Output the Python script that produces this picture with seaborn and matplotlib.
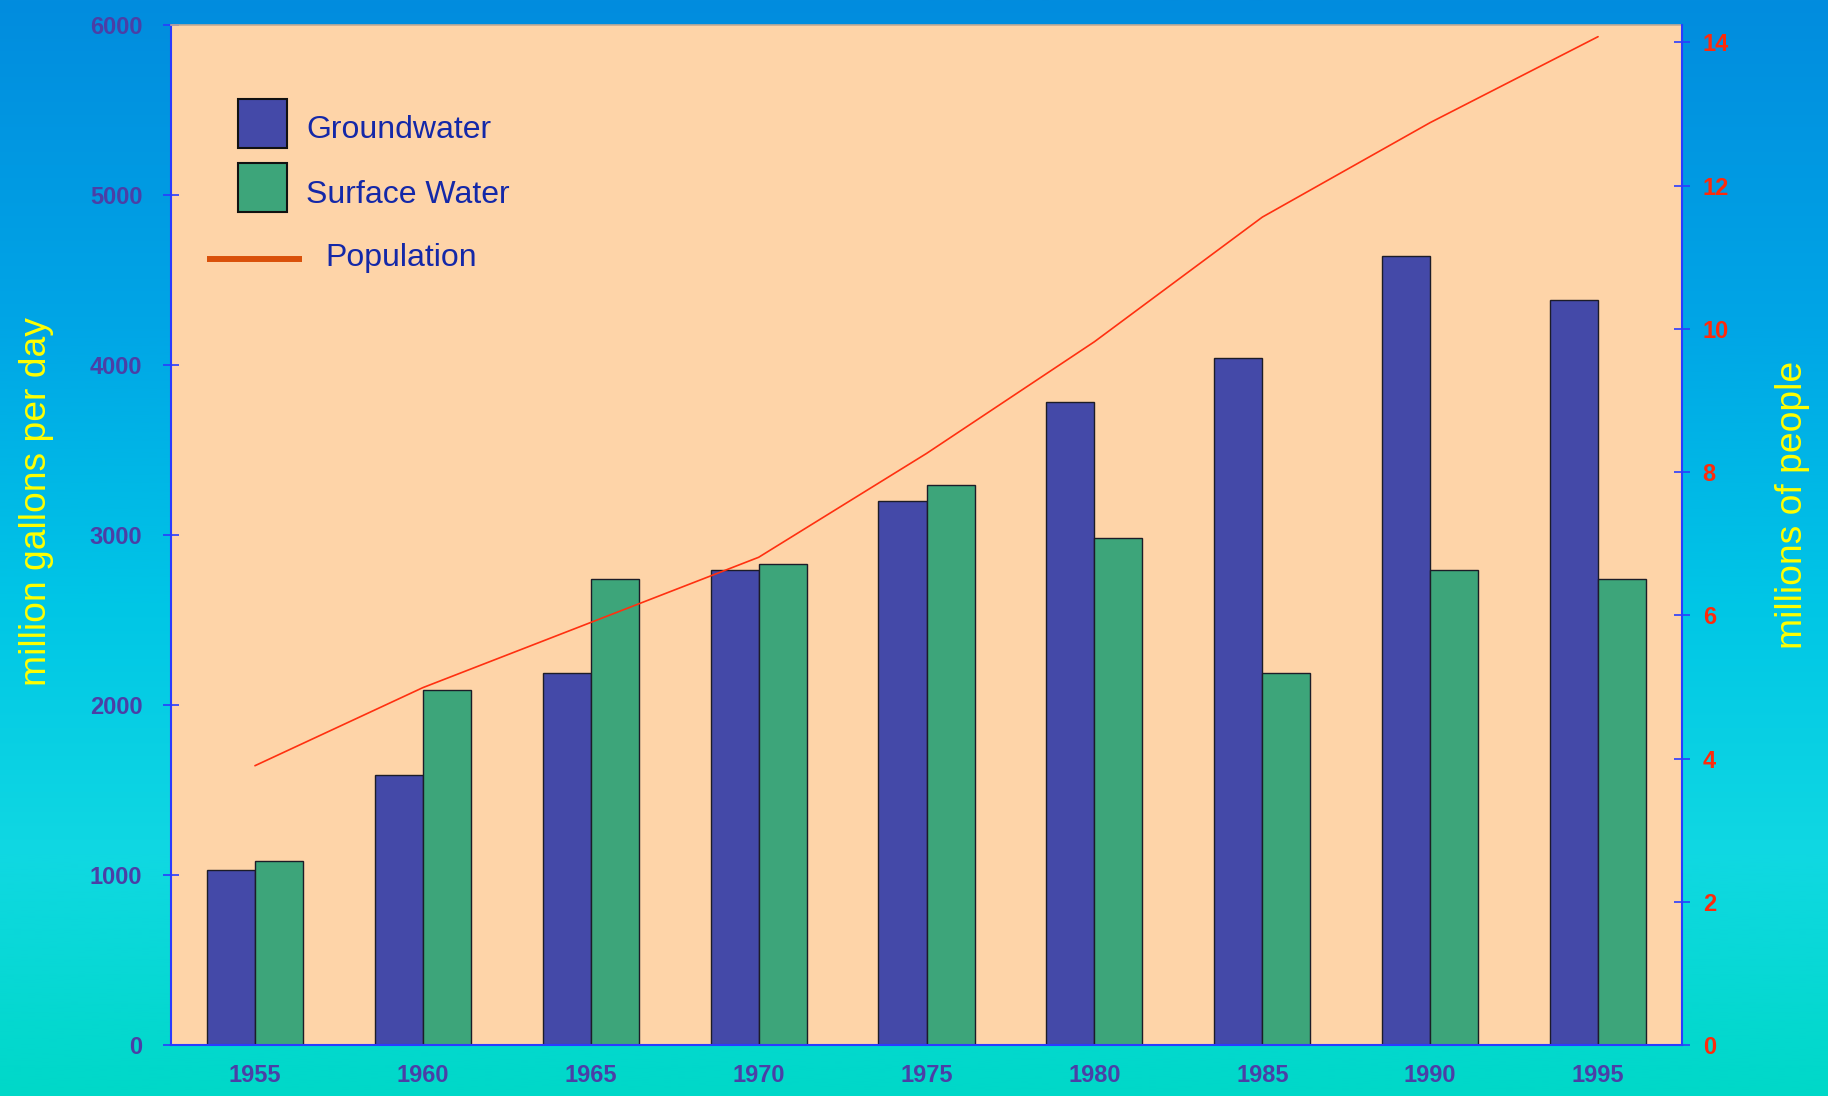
import numpy as np
import pandas as pd
import matplotlib
matplotlib.use("Agg")
import matplotlib.pyplot as plt
from matplotlib import font_manager
from matplotlib.patches import Rectangle
from matplotlib.lines import Line2D
import seaborn as sns

# ---- data -------------------------------------------------------------
years = ["1955", "1960", "1965", "1970", "1975", "1980", "1985", "1990", "1995"]
groundwater = [1030, 1590, 2190, 2790, 3200, 3780, 4040, 4640, 4380]      # million gallons per day
surface_water = [1080, 2090, 2740, 2830, 3290, 2980, 2190, 2790, 2740]    # million gallons per day
population = [3.90, 4.99, 5.90, 6.81, 8.26, 9.82, 11.56, 12.88, 14.08]  # millions of people
series_names = ["Groundwater", "Surface Water"]
left_ticks = [0, 1000, 2000, 3000, 4000, 5000, 6000]
right_ticks = [0, 2, 4, 6, 8, 10, 12, 14]

# ---- style ------------------------------------------------------------
sns.set_style("white")
available = {f.name for f in font_manager.fontManager.ttflist}
NARROW = "Liberation Sans Narrow" if "Liberation Sans Narrow" in available else "Liberation Sans"
tick_size = 21 if NARROW == "Liberation Sans Narrow" else 17
plt.rcParams["font.family"] = ["Liberation Sans", "DejaVu Sans"]

W, H = 1828, 1096
fig = plt.figure(figsize=(W / 100, H / 100), dpi=100)

# vertical blue-to-cyan backdrop
stops = np.array([0.0, 0.3, 0.55, 0.78, 1.0])
cols = np.array([[0x02, 0x8c, 0xde], [0x00, 0xa6, 0xe6], [0x00, 0xc6, 0xe6],
                 [0x10, 0xd8, 0xe2], [0x00, 0xd8, 0xc8]]) / 255.0
t = np.linspace(0, 1, 512)
grad = np.stack([np.interp(t, stops, cols[:, k]) for k in range(3)], axis=-1)[:, None, :]
bg = fig.add_axes([0, 0, 1, 1], zorder=-10)
bg.imshow(grad, aspect="auto", extent=[0, 1, 0, 1], origin="upper")
bg.axis("off")

x0, x1, y_top, y_bot = 171, 1682, 24.5, 1045
ax = fig.add_axes([x0 / W, 1 - y_bot / H, (x1 - x0) / W, (y_bot - y_top) / H])
ax.set_facecolor("#fed4a8")

df = pd.DataFrame({
    "year": years * 2,
    "value": groundwater + surface_water,
    "source": [series_names[0]] * len(years) + [series_names[1]] * len(years),
})
palette = {"Groundwater": "#4449a8", "Surface Water": "#3da57a"}
sns.barplot(data=df, x="year", y="value", hue="source", order=years,
            hue_order=series_names, palette=palette, width=0.572,
            edgecolor="#1c1c28", linewidth=1.0, saturation=1, legend=False, ax=ax)

axis_blue = "#2a3cff"
ax.set_xlim(-0.5, len(years) - 0.5)
ax.set_ylim(0, 6000)
ax.set_yticks(left_ticks)
ax.set_yticklabels([str(v) for v in left_ticks])
ax.set_xlabel("")
ax.set_ylabel("")
ax.tick_params(axis="y", direction="inout", length=12.2, width=1.2, color=axis_blue,
               labelcolor="#4b3fa6", labelsize=tick_size, pad=14.5)
ax.tick_params(axis="x", which="major", length=0, labelcolor="#4b3fa6",
               labelsize=tick_size, pad=14)
ax.set_xticks(np.arange(-0.5, len(years), 1.0), minor=True)
ax.tick_params(axis="x", which="minor", direction="inout", length=12.2, width=1.2,
               color=axis_blue)
for lab in ax.get_xticklabels() + ax.get_yticklabels():
    lab.set_fontfamily(NARROW)
    lab.set_fontweight("bold")
for side in ("left", "bottom"):
    ax.spines[side].set_color(axis_blue)
    ax.spines[side].set_linewidth(1.5)
ax.spines["top"].set_color("#c4ab94")
ax.spines["top"].set_linewidth(1.2)
ax.spines["right"].set_visible(False)

# population on the secondary axis
ax2 = ax.twinx()
sns.lineplot(x=np.arange(len(years)), y=population, color="#ff3010", linewidth=1.2, ax=ax2)
ax2.set_ylim(0, 14.25)
ax2.set_yticks(right_ticks)
ax2.set_yticklabels([str(v) for v in right_ticks])
ax2.tick_params(axis="y", direction="inout", length=12.2, width=1.2, color=axis_blue,
                labelcolor="#ff2a0a", labelsize=tick_size, pad=8.8)
for lab in ax2.get_yticklabels():
    lab.set_fontfamily(NARROW)
    lab.set_fontweight("bold")
for side in ("left", "top", "bottom"):
    ax2.spines[side].set_visible(False)
ax2.spines["right"].set_color(axis_blue)
ax2.spines["right"].set_linewidth(1.5)
ax2.set_ylabel("")

# axis titles
fig.text(37 / W, 1 - 502 / H, "million gallons per day", rotation=90, ha="center",
         va="center", color="#ffff00", fontsize=26.8)
fig.text(1793 / W, 1 - 505 / H, "millions of people", rotation=90, ha="center",
         va="center", color="#ffff00", fontsize=26.8)

# legend
def fx(px):
    return px / W

def fy(py):
    return 1 - py / H

legend_text = "#1428a8"
for (top, bottom), name in zip([(99, 147.7), (163, 211.7)], series_names):
    fig.add_artist(Rectangle((fx(237.7), fy(bottom)), fx(286.7) - fx(237.7),
                             fy(top) - fy(bottom), transform=fig.transFigure,
                             facecolor=palette[name], edgecolor="#111111", linewidth=1.5))
fig.add_artist(Line2D([fx(206.7), fx(302)], [fy(259), fy(259)], transform=fig.transFigure,
                      color="#d9500a", linewidth=4.3, solid_capstyle="butt"))
fig.text(fx(306), fy(138.3), "Groundwater", color=legend_text, fontsize=23, va="baseline")
fig.text(fx(306), fy(203.3), "Surface Water", color=legend_text, fontsize=23, va="baseline")
fig.text(fx(325.7), fy(266), "Population", color=legend_text, fontsize=23, va="baseline")

fig.savefig("out.png", dpi=100)
